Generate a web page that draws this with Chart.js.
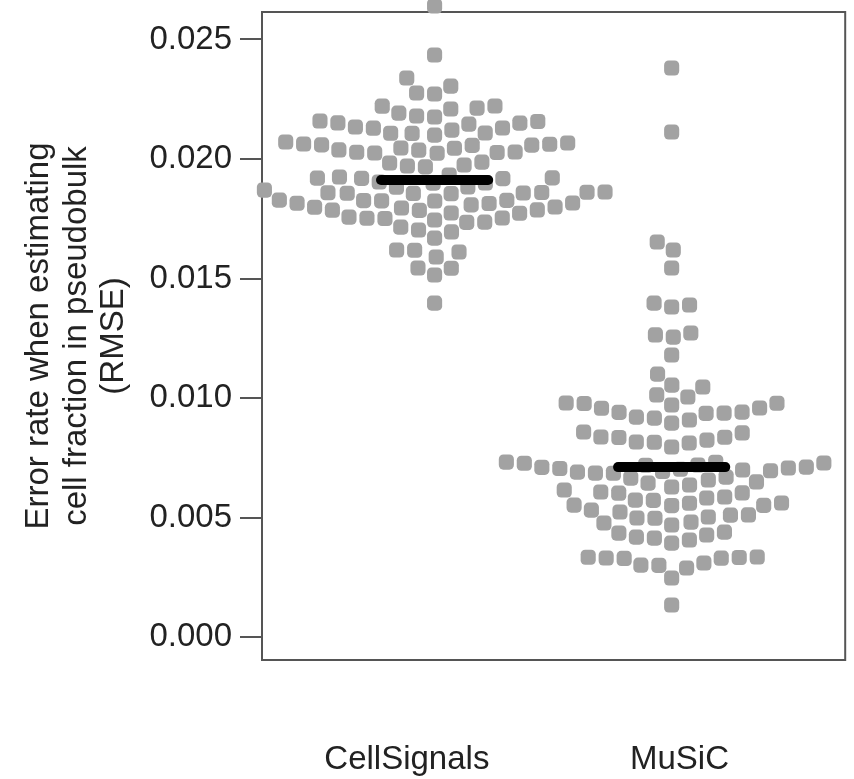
<!DOCTYPE html>
<html>
<head>
<meta charset="utf-8">
<script src="https://cdn.jsdelivr.net/npm/chart.js@4.4.0/dist/chart.umd.min.js"></script>
<style>
  html, body { margin: 0; padding: 0; background: #fff; }
</style>
</head>
<body>
<canvas id="myChart" width="854" height="779"></canvas>
<script>
var groups = ['CellSignals', 'MuSiC'];

// RMSE per run
var cellSignals = [
  0.02640, 0.02435, 0.02339, 0.02305, 0.02276, 0.02272,
  0.02222, 0.02221, 0.02213, 0.02209, 0.02192, 0.02180, 0.02176,
  0.02159, 0.02157, 0.02151, 0.02150, 0.02146, 0.02134, 0.02130, 0.02129, 0.02121, 0.02109, 0.02108, 0.02107, 0.02100,
  0.02071, 0.02067, 0.02063, 0.02062, 0.02059, 0.02058, 0.02057, 0.02046, 0.02045, 0.02038, 0.02037, 0.02029, 0.02028, 0.02027, 0.02025, 0.02024,
  0.01987, 0.01983, 0.01975, 0.01971, 0.01967,
  0.01933, 0.01925, 0.01921, 0.01920, 0.01919, 0.01918, 0.01904, 0.01900, 0.01899, 0.01883, 0.01882,
  0.01870, 0.01862, 0.01861, 0.01860, 0.01859, 0.01858, 0.01857, 0.01856, 0.01855,
  0.01828, 0.01827, 0.01787, 0.01774, 0.01753, 0.01736, 0.01715, 0.01703, 0.01695, 0.01669,
  0.01826, 0.01825, 0.01816, 0.01773, 0.01757, 0.01752, 0.01735, 0.01751, 0.01745,
  0.01815, 0.01808, 0.01786, 0.01799, 0.01785, 0.01795, 0.01798, 0.01814, 0.01824,
  0.01619, 0.01618, 0.01611, 0.01590,
  0.01544, 0.01543, 0.01515,
  0.01397
];

var music = [
  0.02381, 0.02113, 0.01653, 0.01619, 0.01544, 0.01397, 0.01389, 0.01381, 0.01272, 0.01264, 0.01255, 0.01180, 0.01100,
  0.01054, 0.01046, 0.01013, 0.01004, 0.00979,
  0.00978, 0.00971, 0.00958, 0.00941, 0.00937, 0.00916, 0.00895, 0.00908, 0.00920, 0.00936, 0.00940, 0.00957, 0.00977,
  0.00858, 0.00837, 0.00816, 0.00815, 0.00795, 0.00836, 0.00812, 0.00824, 0.00835, 0.00854,
  0.00705, 0.00702, 0.00699, 0.00696, 0.00693, 0.00690,
  0.00732, 0.00728, 0.00720, 0.00711, 0.00686, 0.00685, 0.00707, 0.00710, 0.00719, 0.00727, 0.00731,
  0.00669, 0.00665, 0.00657, 0.00649, 0.00644, 0.00636,
  0.00628, 0.00615, 0.00607, 0.00603, 0.00602, 0.00586, 0.00573, 0.00572,
  0.00561, 0.00560, 0.00552, 0.00551, 0.00550, 0.00523, 0.00498, 0.00497, 0.00477, 0.00582, 0.00531, 0.00510, 0.00481,
  0.00502, 0.00511, 0.00469, 0.00439, 0.00435, 0.00427, 0.00418, 0.00414, 0.00406, 0.00393,
  0.00335, 0.00334, 0.00333, 0.00331, 0.00330, 0.00329, 0.00310, 0.00301, 0.00300, 0.00289,
  0.00247, 0.00134
];

var medians = [0.01912, 0.00711];
var yTicks = [0, 0.005, 0.010, 0.015, 0.020, 0.025];

var FONT = "'Liberation Sans', Arial, sans-serif";
var DOT = '#a2a2a2';
var SPACING = 18;          // swarm spacing in px
var HALF_BAR = 0.226;      // half width of median bar, x units
var LABEL_AT = [0.883, 2.033]; // where the group names sit under the box

// beeswarm "swarm": lowest value first, each point goes as close to the centre as it can
function swarmOffsets(py, d) {
  var idx = py.map(function (p, i) { return i; });
  idx.sort(function (a, b) { return py[b] - py[a]; });
  var placed = [];
  var out = new Array(py.length);
  idx.forEach(function (i) {
    var y = py[i];
    var near = placed.filter(function (p) { return Math.abs(p.y - y) < d; });
    var cands = [0];
    near.forEach(function (p) { cands.push(p.x + Math.sqrt(d * d - (p.y - y) * (p.y - y))); });
    near.forEach(function (p) { cands.push(p.x - Math.sqrt(d * d - (p.y - y) * (p.y - y))); });
    var best = null;
    cands.forEach(function (c) {
      var ok = near.every(function (p) {
        var dx = p.x - c, dy = p.y - y;
        return dx * dx + dy * dy >= d * d - 0.01;
      });
      if (ok && (best === null || Math.abs(c) < Math.abs(best))) best = c;
    });
    out[i] = best;
    placed.push({ x: best, y: y });
  });
  return out;
}

var boxPlugin = {
  id: 'box',
  beforeDatasetsDraw: function (chart) {
    var a = chart.chartArea, ctx = chart.ctx;
    ctx.save();
    ctx.strokeStyle = '#555';
    ctx.lineWidth = 2;
    ctx.strokeRect(a.left, a.top, a.right - a.left, a.bottom - a.top);
    ctx.restore();
  }
};

function pointsFor(vals, g) {
  return vals.map(function (v) { return { x: g + 1, y: v }; });
}

var ctx = document.getElementById('myChart');
var myChart = new Chart(ctx, {
  type: 'scatter',
  data: {
    datasets: [
      { data: pointsFor(cellSignals, 0), backgroundColor: DOT, borderWidth: 0, pointStyle: 'rectRounded', pointRadius: 8.8, clip: false, order: 2 },
      { data: pointsFor(music, 1), backgroundColor: DOT, borderWidth: 0, pointStyle: 'rectRounded', pointRadius: 8.8, clip: false, order: 2 },
      { type: 'line', data: [{ x: 1 - HALF_BAR, y: medians[0] }, { x: 1 + HALF_BAR, y: medians[0] }],
        borderColor: '#000', borderWidth: 10, borderCapStyle: 'round', pointRadius: 0, order: 1 },
      { type: 'line', data: [{ x: 2 - HALF_BAR, y: medians[1] }, { x: 2 + HALF_BAR, y: medians[1] }],
        borderColor: '#000', borderWidth: 10, borderCapStyle: 'round', pointRadius: 0, order: 1 }
    ]
  },
  options: {
    responsive: false,
    animation: false,
    events: [],
    layout: { padding: { top: 12, right: 4, left: 0, bottom: 0 } },
    plugins: { legend: { display: false }, tooltip: { enabled: false } },
    scales: {
      x: {
        type: 'linear',
        min: 0.272,
        max: 2.732,
        grid: { display: false },
        border: { display: false },
        afterBuildTicks: function (s) { s.ticks = LABEL_AT.map(function (v) { return { value: v }; }); },
        afterFit: function (s) { s.height = 119; s.paddingLeft = 0; s.paddingRight = 0; },
        ticks: {
          padding: 72,
          color: '#222',
          font: { family: FONT, size: 33 },
          callback: function (v, i) { return groups[i]; }
        }
      },
      y: {
        min: -0.00096,
        max: 0.02615,
        border: { display: false },
        grid: { drawOnChartArea: false, drawTicks: true, tickLength: 22, color: '#555', lineWidth: 2 },
        afterBuildTicks: function (s) { s.ticks = yTicks.map(function (v) { return { value: v }; }); },
        afterFit: function (s) { s.width = 262; s.paddingTop = 0; s.paddingBottom = 0; },
        ticks: {
          padding: 8,
          color: '#222',
          font: { family: FONT, size: 33 },
          callback: function (v) { return v.toFixed(3); }
        },
        title: {
          display: true,
          text: ['Error rate when estimating', 'cell fraction in pseudobulk', '(RMSE)'],
          color: '#222',
          font: { family: FONT, size: 33, lineHeight: 1.14 },
          padding: { top: 20, bottom: 0 }
        }
      }
    }
  },
  plugins: [boxPlugin]
});

// lay the swarm out in pixel space, then turn the offsets back into x units
function layoutSwarm() {
  var xs = myChart.scales.x, ys = myChart.scales.y;
  var pxPerUnit = xs.getPixelForValue(1) - xs.getPixelForValue(0);
  [cellSignals, music].forEach(function (vals, g) {
    var py = vals.map(function (v) { return ys.getPixelForValue(v); });
    var offs = swarmOffsets(py, SPACING);
    myChart.data.datasets[g].data = vals.map(function (v, i) {
      return { x: g + 1 + offs[i] / pxPerUnit, y: v };
    });
  });
  myChart.update('none');
}
layoutSwarm();
</script>
</body>
</html>
